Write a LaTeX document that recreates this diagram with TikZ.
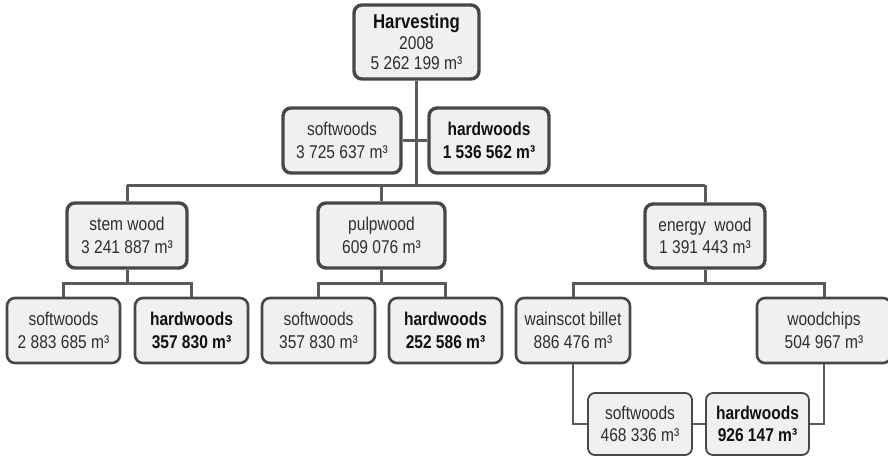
\documentclass[tikz,border=0pt]{standalone}
\usepackage{fontspec}
\setmainfont[FakeStretch=0.84]{Liberation Sans}
\begin{document}
\begin{tikzpicture}[x=1pt,y=-1pt,
  box/.style={draw=boxline, fill=boxfill, rounded corners=8pt, align=center,
    inner sep=0pt, text=txt, font=\fontsize{18.5}{22.5}\selectfont},
  big/.style={box, line width=3.4pt},
  mid/.style={box, line width=2.6pt},
  small/.style={box, line width=1.8pt, rounded corners=7pt},
  conn/.style={draw=connline, line width=3pt},
  thin/.style={draw=connline, line width=2.2pt},
  bt/.style={font=\fontsize{18.5}{22.5}\selectfont\bfseries, text=txtb}
]
\definecolor{boxline}{HTML}{474747}
\definecolor{boxfill}{HTML}{F0F0F0}
\definecolor{connline}{HTML}{5A5A5A}
\definecolor{txt}{HTML}{2E2E2E}
\definecolor{txtb}{HTML}{111111}
\useasboundingbox (0,0) rectangle (888,456);

\coordinate (trunk) at (416.5,185);
\coordinate (busL) at (127,185);
\coordinate (busR) at (705,185);

% boxes
\node[big, minimum width=125, minimum height=74, font=\fontsize{18.5}{20.5}\selectfont] (harv) at (416.5,42)
  {{\fontsize{20}{20.5}\selectfont\bfseries\color{txtb}Harvesting}\\2008\\5 262 199 m³};
\node[big, minimum width=118, minimum height=65] (sw2) at (342,140.5) {softwoods\\3 725 637 m³};
\node[big, minimum width=120, minimum height=65, bt] (hw2) at (489,140.5) {hardwoods\\1 536 562 m³};

\node[big, minimum width=120, minimum height=65] (stem) at (127,235.5) {stem wood\\3 241 887 m³};
\node[big, minimum width=127, minimum height=65] (pulp) at (381.5,235.5) {pulpwood\\609 076 m³};
\node[big, minimum width=120, minimum height=64] (energy) at (705,236) {energy\ \ wood\\1 391 443 m³};

\node[mid, minimum width=113, minimum height=65] (sw4a) at (63.5,330.5) {softwoods\\2 883 685 m³};
\node[mid, minimum width=113, minimum height=65, bt] (hw4a) at (191.5,330.5) {hardwoods\\357 830 m³};
\node[mid, minimum width=113, minimum height=65] (sw4b) at (318.5,330.5) {softwoods\\357 830 m³};
\node[mid, minimum width=113, minimum height=65, bt] (hw4b) at (445.5,330.5) {hardwoods\\252 586 m³};
\node[mid, minimum width=114, minimum height=65] (wain) at (573,330.5) {wainscot billet\\886 476 m³};
\node[mid, minimum width=134, minimum height=65] (wood) at (824,330.5) {woodchips\\504 967 m³};

\node[small, minimum width=104, minimum height=62] (sw5) at (640,424) {softwoods\\468 336 m³};
\node[small, minimum width=103, minimum height=62, bt] (hw5) at (757.5,424) {hardwoods\\926 147 m³};

% connector lines
\draw[conn] (harv.south) -- (trunk);
\draw[conn] (sw2.east) -- (hw2.west);
\draw[conn] (busL) -- (busR);
\draw[conn] (stem.north) -- (busL);
\draw[conn] (pulp.north) -- (pulp.north |- trunk);
\draw[conn] (energy.north) -- (busR);

\coordinate (sA) at (127,283);
\draw[conn] (stem.south) -- (sA);
\draw[conn] (sw4a.north) |- (sA) -| (hw4a.north);
\coordinate (pA) at (381.5,283);
\draw[conn] (pulp.south) -- (pA);
\draw[conn] (sw4b.north) |- (pA) -| (hw4b.north);
\coordinate (eA) at (705,283);
\draw[conn] (energy.south) -- (eA);
\draw[conn] (wain.north) |- (eA) -| (wood.north);

\draw[thin] (wain.south) |- (sw5.west);
\draw[thin] (wood.south) |- (hw5.east);
\draw[thin] (sw5.east) -- (hw5.west);
\end{tikzpicture}
\end{document}
